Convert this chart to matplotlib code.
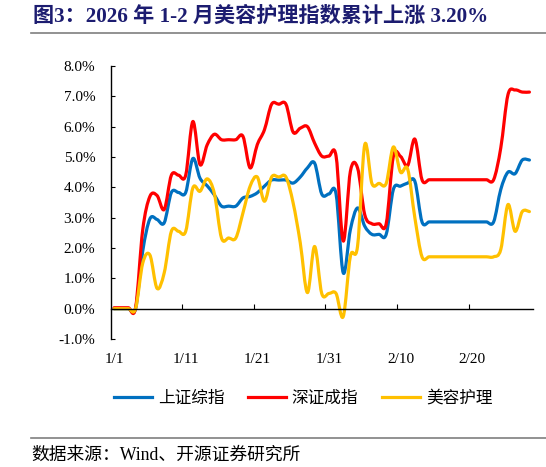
import matplotlib
matplotlib.use("Agg")
import matplotlib.pyplot as plt
from matplotlib.lines import Line2D
from matplotlib.path import Path
from matplotlib.patches import PathPatch
from matplotlib.ticker import FixedLocator, MultipleLocator, FuncFormatter

plt.rcParams['font.family'] = ['Liberation Serif', 'Noto Sans CJK SC']

# calendar days 1/1 .. 2/28 (non-trading days carry the last close)
days = list(range(59))
tick_days = [0, 10, 20, 30, 40, 50]
tick_labels = ['1/1', '1/11', '1/21', '1/31', '2/10', '2/20']

# cumulative change, %
sh_index = [0, 0, 0, 0, 1.9, 2.96, 2.94, 2.83, 3.83, 3.83, 3.83, 4.95, 4.3, 4.05, 3.75,
            3.38, 3.38, 3.38, 3.65, 3.7, 3.82, 4.04, 4.24, 4.24, 4.24, 4.14, 4.34, 4.64, 4.8,
            3.78, 3.78, 3.78, 1.18, 2.61, 3.32, 2.72, 2.45, 2.45, 2.45, 3.93, 4.04, 4.14, 4.2,
            2.86, 2.86, 2.86, 2.86, 2.86, 2.86, 2.86, 2.86, 2.86, 2.86, 2.86, 3.93, 4.5, 4.45,
            4.9, 4.9]
sz_index = [0.03, 0.03, 0.03, 0.03, 2.6, 3.7, 3.73, 3.27, 4.4, 4.4, 4.4, 6.17, 4.75, 5.4, 5.75,
            5.57, 5.57, 5.57, 5.68, 4.64, 5.41, 5.9, 6.74, 6.74, 6.74, 5.82, 5.95, 6.0, 5.46,
            5.03, 5.03, 5.03, 2.23, 4.53, 4.64, 3.1, 2.8, 2.8, 2.8, 5.02, 5.02, 4.72, 5.59,
            4.25, 4.25, 4.25, 4.25, 4.25, 4.25, 4.25, 4.25, 4.25, 4.25, 4.25, 5.3, 7.05, 7.21,
            7.14, 7.14]
beauty = [0, 0, 0, 0, 1.5, 1.77, 0.67, 1.18, 2.55, 2.55, 2.55, 3.98, 3.87, 4.28, 3.8,
          2.33, 2.33, 2.33, 3.16, 4.04, 4.34, 3.54, 4.34, 4.34, 4.34, 3.49, 2.17, 0.53, 2.05,
          0.5, 0.5, 0.5, -0.26, 1.73, 2.06, 5.4, 4.13, 4.13, 4.13, 5.33, 4.5, 4.6, 3.0,
          1.71, 1.71, 1.71, 1.71, 1.71, 1.71, 1.71, 1.71, 1.71, 1.71, 1.71, 1.95, 3.43, 2.55,
          3.2, 3.2]

series = [('上证综指', sh_index, '#0070C0'),
          ('深证成指', sz_index, '#FF0000'),
          ('美容护理', beauty, '#FFC000')]


def smooth_path(x, y):
    # excel-style smoothed line: cubic bezier through every point
    verts = [(x[0], y[0])]
    codes = [Path.MOVETO]
    n = len(x)
    for i in range(n - 1):
        x0, y0 = (x[i - 1], y[i - 1]) if i > 0 else (x[i], y[i])
        x3, y3 = (x[i + 2], y[i + 2]) if i + 2 < n else (x[i + 1], y[i + 1])
        c1 = (x[i] + (x[i + 1] - x0) / 6, y[i] + (y[i + 1] - y0) / 6)
        c2 = (x[i + 1] - (x3 - x[i]) / 6, y[i + 1] - (y3 - y[i]) / 6)
        verts += [c1, c2, (x[i + 1], y[i + 1])]
        codes += [Path.CURVE4] * 3
    return Path(verts, codes)


fig = plt.figure(figsize=(5.46, 4.67), dpi=100)
ax = fig.add_axes([110.5 / 546, 1 - 339 / 467, 422.5 / 546, 273 / 467])

handles = []
for name, vals, col in series:
    ax.add_patch(PathPatch(smooth_path(days, vals), facecolor='none', edgecolor=col,
                           lw=2.3, joinstyle='round', capstyle='round'))
    handles.append(Line2D([], [], color=col, lw=2.3, label=name))

ax.set_xlim(-0.5, 58.5)
ax.set_ylim(-1, 8)

for s in ['top', 'right']:
    ax.spines[s].set_visible(False)
ax.spines['bottom'].set_position(('data', 0))
ax.spines['bottom'].set_linewidth(1.0)
ax.spines['left'].set_linewidth(1.0)

ax.yaxis.set_major_locator(MultipleLocator(1))
ax.yaxis.set_major_formatter(FuncFormatter(lambda v, p: f'{v:.1f}%'))
ax.tick_params(axis='y', direction='in', length=3, width=0.8, pad=11, labelsize=11)

ax.xaxis.set_major_locator(FixedLocator(tick_days))
ax.set_xticklabels(tick_labels)
ax.xaxis.set_minor_locator(FixedLocator([9.5, 19.5, 29.5, 39.5, 49.5]))
ax.tick_params(axis='x', which='major', length=0, pad=32, labelsize=11)
ax.tick_params(axis='x', which='minor', direction='in', length=3.5, width=0.8)

fig.legend(handles=handles, loc='center', bbox_to_anchor=(303 / 546, 1 - 399 / 467), ncol=3,
           frameon=False, fontsize=12, handlelength=2.3, handletextpad=0.35, columnspacing=1.4)

fig.text(33 / 546, 1 - 17 / 467, '图3：2026 年 1-2 月美容护理指数累计上涨 3.20%',
         fontsize=15.2, fontweight='bold', color='#1C1C70', va='center')
fig.add_artist(Line2D([31 / 546, 1], [1 - 32.7 / 467] * 2, color='#7F7F7F', lw=1.2))
fig.add_artist(Line2D([31 / 546, 1], [1 - 437.5 / 467] * 2, color='#7F7F7F', lw=1.2))
fig.text(31 / 546, 1 - 455.5 / 467, '数据来源：Wind、开源证券研究所', fontsize=12.8, va='center')

fig.savefig('out.png', dpi=100)
